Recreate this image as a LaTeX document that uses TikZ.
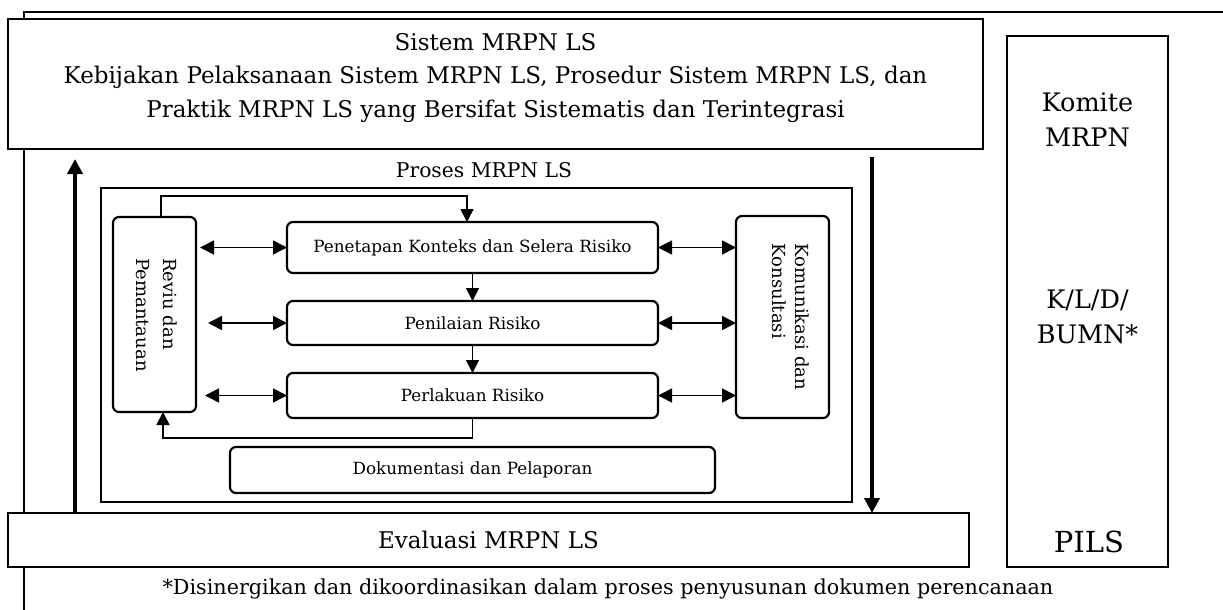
\documentclass[tikz,border=0pt]{standalone}
\usepackage{fontspec}
\setmainfont{DejaVu Serif}
\usetikzlibrary{arrows.meta,calc}
\newcommand\myfs[2]{\fontsize{#1}{#2}\selectfont}
\begin{document}
\begin{tikzpicture}[x=1pt,y=-1pt,
  every node/.style={inner sep=0pt,outer sep=0pt},
  plainbox/.style={draw,fill=white,line width=1.5pt},
  innerbox/.style={draw,line width=2.4pt},
  procbox/.style={draw,fill=white,line width=2.2pt,rounded corners=6pt,font=\myfs{16.8}{22}},
  framel/.style={line width=2.2pt},
  arr/.style={line width=1.6pt,-{Triangle[length=13pt,width=13pt]}},
  dbl/.style={line width=1.6pt,{Triangle[length=14pt,width=14pt]}-{Triangle[length=14pt,width=14pt]}},
  big/.style={line width=3.8pt,-{Triangle[length=15pt,width=15pt]}},
  bigtext/.style={font=\myfs{23}{33.5},align=center},
  midtext/.style={font=\myfs{20.3}{28},align=center},
  sidetext/.style={font=\myfs{25.5}{35},align=center}]
\useasboundingbox (0,0) rectangle (1223,610);
% outer partial frame
\coordinate (frtr) at (1240,12);
\coordinate (frtl) at (24,12);
\coordinate (frbl) at (24,630);
\draw[framel] (frtr) -- (frtl) -- (frbl);
% big boxes
\node[plainbox,minimum width=975,minimum height=130] (top) at (495.5,84) {};
\node[bigtext] (toptext) at (495.5,78) {Sistem MRPN LS\\Kebijakan Pelaksanaan Sistem MRPN LS, Prosedur Sistem MRPN LS, dan\\Praktik MRPN LS yang Bersifat Sistematis dan Terintegrasi};
\node[plainbox,minimum width=961,minimum height=54,font=\myfs{23}{26}] (eval) at (488.5,540) {Evaluasi MRPN LS};
\node[plainbox,minimum width=161,minimum height=531] (kom) at (1087.5,301.5) {};
\node[sidetext] (komt1) at (1087.5,120) {Komite\\MRPN};
\node[sidetext] (komt2) at (1087.5,317) {K/L/D/\\BUMN*};
\node[font=\myfs{29}{34}] (pils) at (1089,542) {PILS};
% process
\node[midtext] (proslbl) at (484,170) {Proses MRPN LS};
\node[innerbox,minimum width=751,minimum height=314] (inner) at (476.5,345) {};
\node[procbox,minimum width=83,minimum height=195] (rev) at (154.5,314.5) {};
\node[rotate=-90,align=left,font=\myfs{18}{27}] (revt) at (156.5,315) {Reviu dan\\Pemantauan};
\node[procbox,minimum width=93,minimum height=202] (kon) at (782.5,317) {};
\node[rotate=-90,align=left,font=\myfs{18}{23}] (kont) at (791,317) {Komunikasi dan\\Konsultasi};
\node[procbox,minimum width=371,minimum height=51] (pen) at (472.5,247.5) {Penetapan Konteks dan Selera Risiko};
\node[procbox,minimum width=371,minimum height=44] (nil) at (472.5,323) {Penilaian Risiko};
\node[procbox,minimum width=371,minimum height=45] (per) at (472.5,395.5) {Perlakuan Risiko};
\node[procbox,minimum width=485,minimum height=46] (dok) at (472.5,470) {Dokumentasi dan Pelaporan};
% flow arrows
\draw[arr] (pen.south) -- (nil.north);
\draw[arr] (nil.south) -- (per.north);
\draw[arr] ([xshift=6.5]rev.north) -- ++(0,-21) -| ([xshift=-5.5]pen.north);
\draw[arr] (per.south) -- ++(0,20) -| ([xshift=8.5]rev.south);
% double arrows
\draw[dbl,shorten <=4] (rev.east |- pen.west) -- (pen.west);
\draw[dbl,shorten <=12] (rev.east |- nil.west) -- (nil.west);
\draw[dbl,shorten <=9] (rev.east |- per.west) -- (per.west);
\draw[dbl] (pen.east) -- (kon.west |- pen.east);
\draw[dbl] (nil.east) -- (kon.west |- nil.east);
\draw[dbl] (per.east) -- (kon.west |- per.east);
% big arrows
\draw[big,shorten >=10] ([xshift=67]eval.north west) -- ([xshift=67]top.south west);
\draw[big,shorten <=8] ([xshift=864]top.south west) -- ([xshift=864]eval.north west);
% footnote
\node[font=\myfs{20.7}{24}] (foot) at (608,589) {*Disinergikan dan dikoordinasikan dalam proses penyusunan dokumen perencanaan};
\end{tikzpicture}
\end{document}
